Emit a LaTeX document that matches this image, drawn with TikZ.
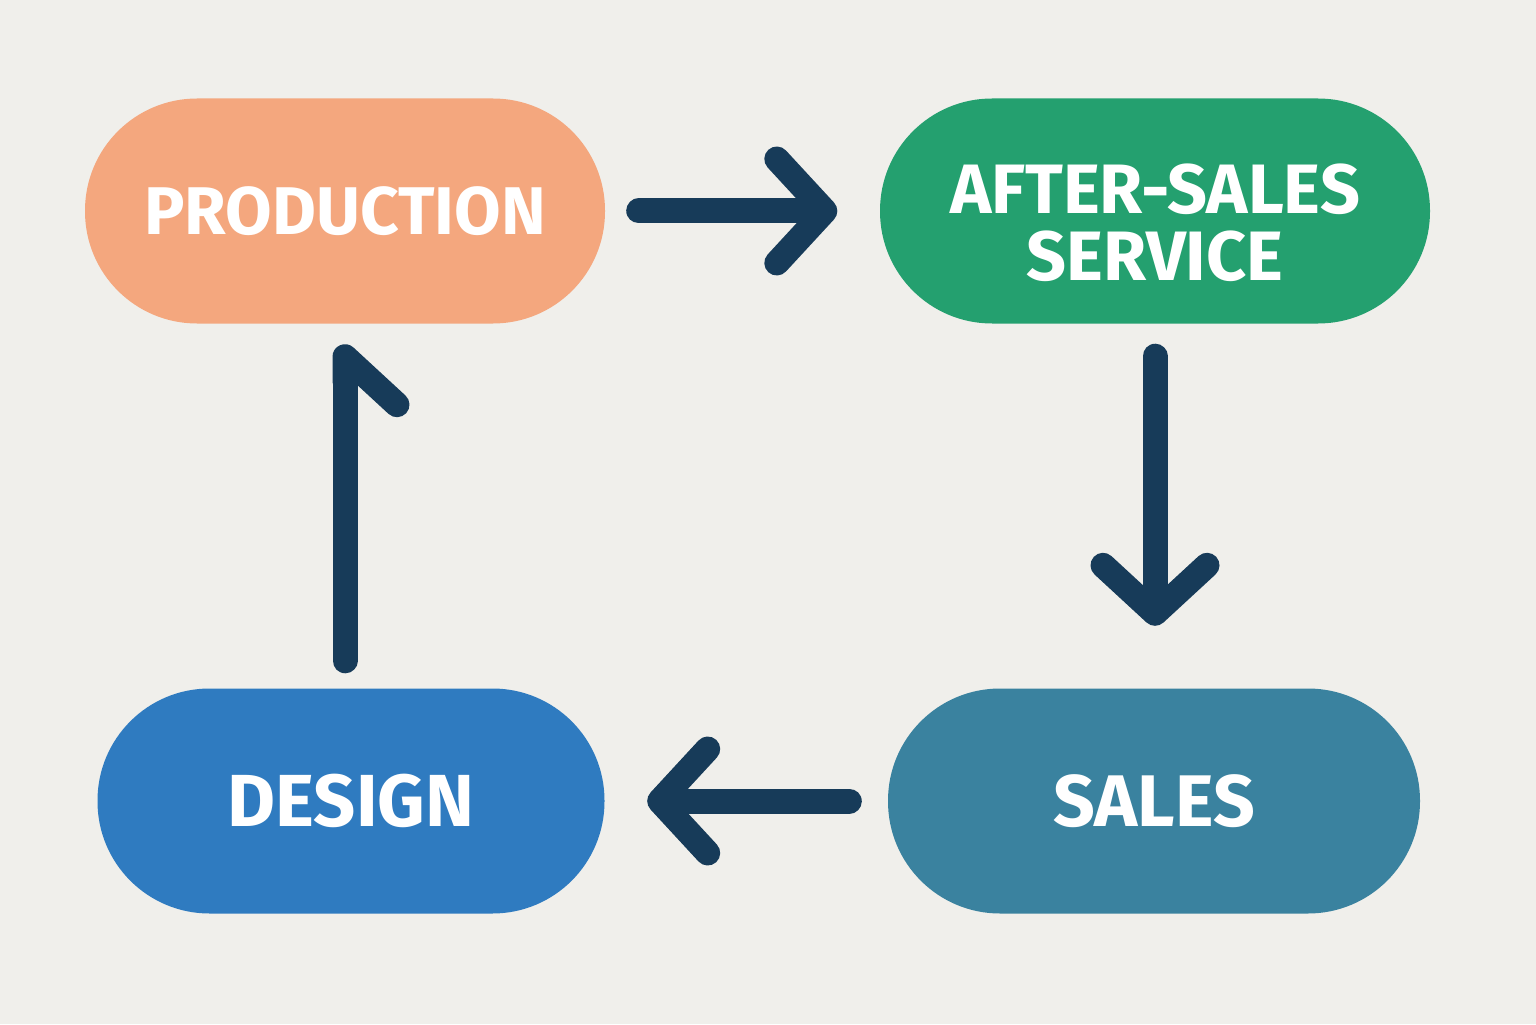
\documentclass[tikz,border=0pt]{standalone}
\usepackage{fontspec}
\setmainfont{Fira Sans}
\usetikzlibrary{arrows.meta}
\definecolor{bgcol}{HTML}{F0EFEB}
\definecolor{prodcol}{HTML}{F4A77E}
\definecolor{servcol}{HTML}{24A06F}
\definecolor{desgcol}{HTML}{2F7BC0}
\definecolor{salecol}{HTML}{3A829F}
\definecolor{arrcol}{HTML}{173B59}
\newcommand{\stagefont}[1]{\fontsize{#1}{19}\selectfont\bfseries}
\tikzset{
  stage/.style={rounded corners=1.12cm,minimum height=2.25cm,text=white,
    font=\stagefont{20.5},align=center,inner sep=0pt},
  flow/.style={draw=arrcol,line width=0.25cm,line cap=round,
    -{Straight Barb[length=0.48cm,width=1.04cm,round]}},
  halfflow/.style={draw=arrcol,line width=0.25cm,line cap=round,
    -{Straight Barb[length=0.48cm,width=1.04cm,round,right]}}
}
\begin{document}
\begin{tikzpicture}
  \fill[bgcol] (0,0) rectangle (15.36,10.24);
  \useasboundingbox (0,0) rectangle (15.36,10.24);
  % the four stages
  \node[stage,fill=prodcol,minimum width=5.2cm,font=\stagefont{19.2}] (production) at (3.45,8.13) {PRODUCTION};
  \node[stage,fill=servcol,minimum width=5.5cm] (service) at (11.55,8.13) {};
  \node[stage,font=\stagefont{19.9}] (servicetext) at ([yshift=-0.12cm]service.center) {AFTER-SALES\\SERVICE};
  \node[stage,fill=salecol,minimum width=5.32cm,font=\stagefont{20.8}] (sales) at (11.54,2.23) {\raisebox{-0.03cm}{SALES}};
  \node[stage,fill=desgcol,minimum width=5.07cm,font=\stagefont{21}] (design) at (3.51,2.23) {DESIGN};
  % the cycle
  \draw[flow,shorten <=0.33cm,shorten >=0.42cm] (production.east) -- (service.west);
  \draw[flow,shorten <=0.32cm,shorten >=0.62cm] (service.south) -- (service.south |- sales.north);
  \draw[flow,shorten <=0.38cm,shorten >=0.42cm] (sales.west) -- (design.east);
  \draw[halfflow,shorten <=0.27cm,shorten >=0.2cm] (design.north -| production.south) -- (production.south);
\end{tikzpicture}
\end{document}
